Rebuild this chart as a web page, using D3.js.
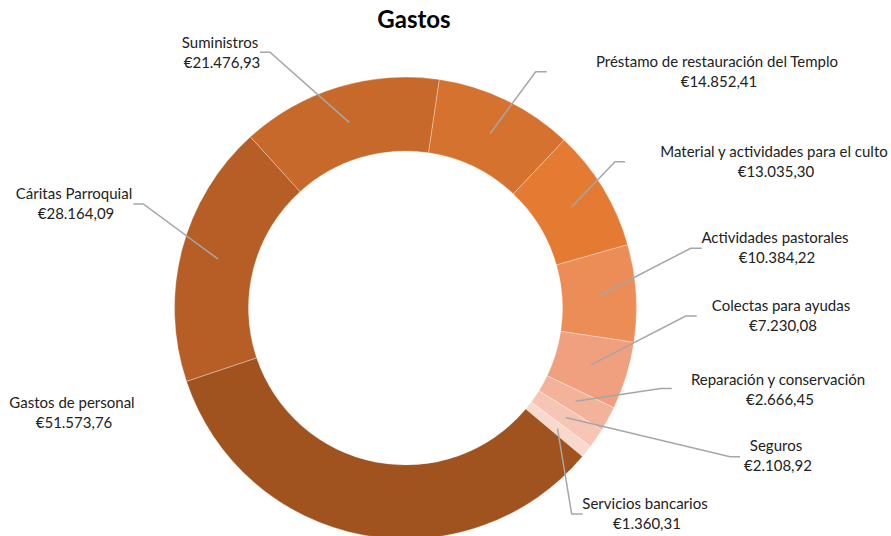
<!DOCTYPE html>
<html>
<head>
<meta charset="utf-8">
<script src="https://cdn.jsdelivr.net/npm/d3@7"></script>
<style>
  html, body { margin: 0; padding: 0; background: #fff; }
  svg text { font-family: Lato, "Open Sans", sans-serif; fill: #222; }
</style>
</head>
<body>
<div id="viz"></div>
<script>
const width = 891;
const height = 536;

// data, clockwise from the top of the ring
const categories = [
  'Préstamo de restauración del Templo',
  'Material y actividades para el culto',
  'Actividades pastorales',
  'Colectas para ayudas',
  'Reparación y conservación',
  'Seguros',
  'Servicios bancarios',
  'Gastos de personal',
  'Cáritas Parroquial',
  'Suministros'
];
const values = [14852.41, 13035.30, 10384.22, 7230.08, 2666.45, 2108.92, 1360.31, 51573.76, 28164.09, 21476.93];
const colors = ['#D6722F', '#E57A33', '#EC8C57', '#F0A07F', '#F3B39B', '#F6C5B5', '#F9D8CE', '#A0531F', '#B65E26', '#C7692B'];

// label placement, offsets from the ring centre: [textX, textY, leaderX, leaderY, elbow]
const labelLayout = [
  [311.5, -241.3, 141.2, -236.3, -11],
  [368.5, -151.3, 219.5, -146.3, -10],
  [369.5, -64.7, 296.2, -59.7, -11],
  [375.5, 2.7, 291.2, 8, -11],
  [372.5, 77, 266.2, 80.5, -11],
  [370.5, 142.7, 334.5, 148.7, -10],
  [239.5, 201, 177.2, 206, -11],
  [-333.5, 100.3, null, null, 0],
  [-331.5, -108.7, -272.2, -104, 10],
  [-185.5, -259.7, -145.5, -255.7, 10]
];

const cx = 405.5, cy = 308;
const outerR = 231, innerR = 157;
const startAngle = 8.4 * Math.PI / 180;

const fmt = d3.formatLocale({decimal: ',', thousands: '.', grouping: [3], currency: ['€', '']}).format('$,.2f');

const svg = d3.select('#viz')
  .append('svg')
  .attr('width', width)
  .attr('height', height)
  .attr('viewBox', [0, 0, width, height]);

svg.append('text')
  .attr('x', 414)
  .attr('y', 28)
  .attr('text-anchor', 'middle')
  .style('font-size', '24px')
  .style('font-weight', 'bold')
  .style('fill', '#000')
  .text('Gastos');

const pie = d3.pie()
  .sort(null)
  .value(d => d)
  .startAngle(startAngle)
  .endAngle(startAngle + 2 * Math.PI);

const arc = d3.arc()
  .innerRadius(innerR)
  .outerRadius(outerR);

const slices = pie(values);

const g = svg.append('g')
  .attr('transform', `translate(${cx},${cy})`);

g.selectAll('path.slice')
  .data(slices)
  .join('path')
  .attr('class', 'slice')
  .attr('d', arc)
  .attr('fill', (d, i) => colors[i])
  .attr('stroke', '#fff')
  .attr('stroke-width', 0.5)
  .attr('stroke-opacity', 0.6);

// leader lines
g.selectAll('polyline.leader')
  .data(slices.filter((d, i) => labelLayout[i][2] !== null))
  .join('polyline')
  .attr('class', 'leader')
  .attr('points', d => {
    const l = labelLayout[d.index];
    const c = arc.centroid(d);
    return [[l[2], l[3]], [l[2] + l[4], l[3]], c].map(p => p.join(',')).join(' ');
  })
  .attr('fill', 'none')
  .attr('stroke', '#A6A6A6')
  .attr('stroke-width', 1.5);

const labels = g.selectAll('text.lbl')
  .data(slices)
  .join('text')
  .attr('class', 'lbl')
  .attr('text-anchor', 'middle')
  .style('font-size', '15px');

labels.append('tspan')
  .attr('x', d => labelLayout[d.index][0])
  .attr('y', d => labelLayout[d.index][1])
  .text(d => categories[d.index]);

labels.append('tspan')
  .attr('x', d => labelLayout[d.index][0] + 2)
  .attr('y', d => labelLayout[d.index][1] + 20)
  .text(d => fmt(d.value));
</script>
</body>
</html>
